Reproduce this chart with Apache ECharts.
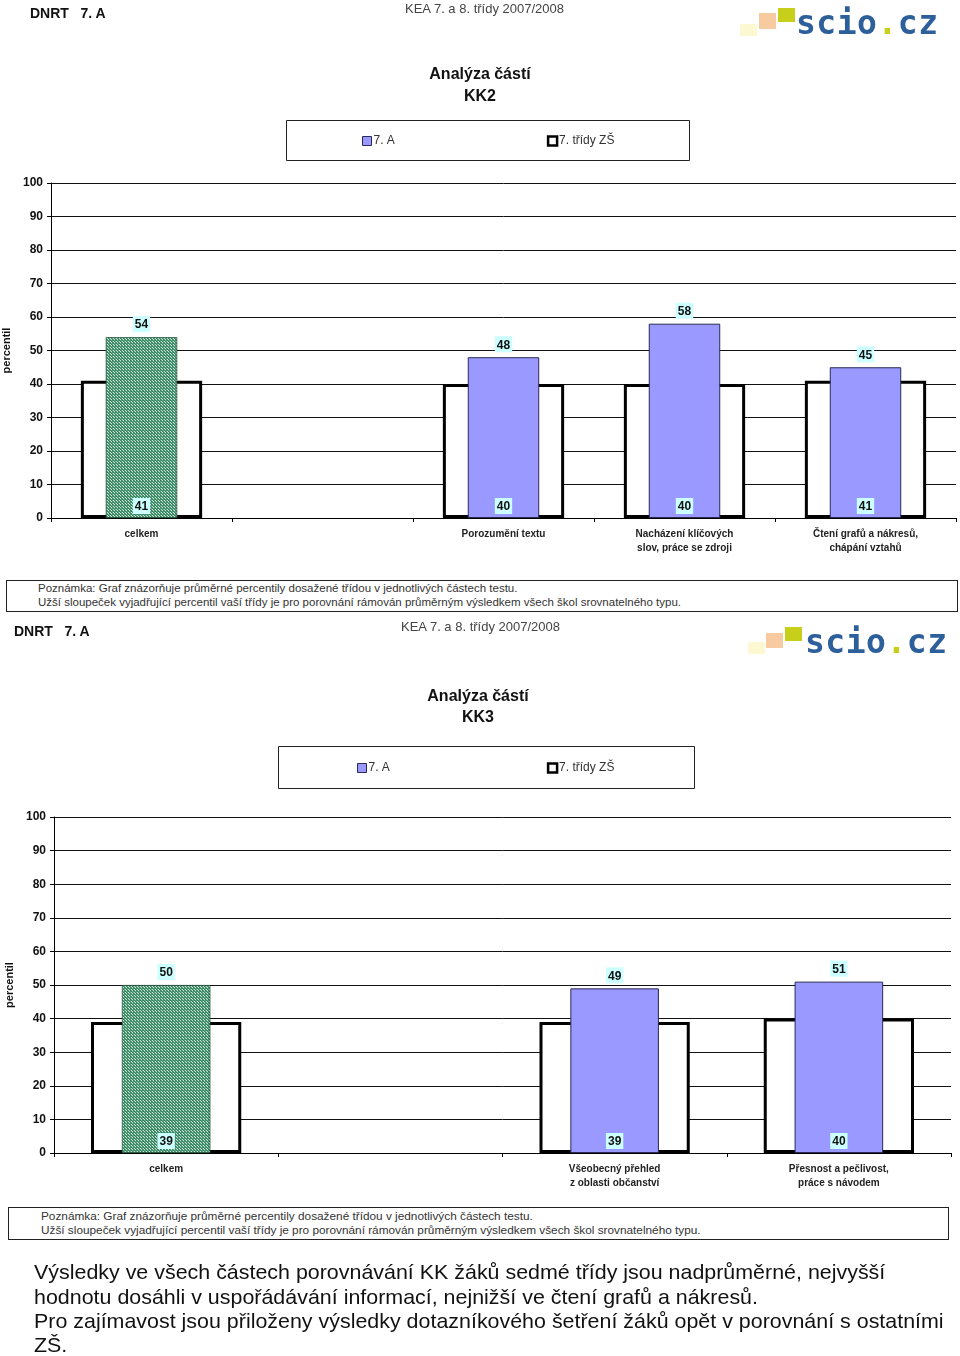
<!DOCTYPE html>
<html><head><meta charset="utf-8">
<script src="https://cdn.jsdelivr.net/npm/echarts@6/dist/echarts.min.js"></script>
<style>
html,body{margin:0;padding:0;background:#fff;}
#wrap{position:relative;width:960px;height:1356px;overflow:hidden;font-family:'Liberation Sans',Arial,sans-serif;}
#chart{position:absolute;left:0;top:0;width:960px;height:1356px;}
.abs{position:absolute;white-space:nowrap;}
.hdr{font-weight:bold;font-size:14px;color:#111;}
.kea{font-family:'Liberation Sans Narrow','Arial Narrow','Liberation Sans',sans-serif;font-size:13px;color:#444;}
.note{position:absolute;border:1px solid #222;background:#fff;}
.note div{position:absolute;font-family:'Liberation Sans Narrow','Arial Narrow','Liberation Sans',sans-serif;font-size:11.5px;color:#333;white-space:nowrap;}
.logo{font-family:'DejaVu Sans Mono',monospace;font-weight:bold;font-size:33px;color:#2d5f9a;letter-spacing:0.5px;}
.sq{position:absolute;}
.para{position:absolute;left:34px;font-size:21px;color:#111;white-space:nowrap;transform-origin:left center;transform:scaleX(1.02);}
</style></head>
<body><div id="wrap">
<div id="chart"></div>

<div class="abs hdr" style="left:30px;top:5px;">DNRT&nbsp;&nbsp;&nbsp;7. A</div>
<div class="abs kea" style="left:405px;top:1px;">KEA 7. a 8. třídy 2007/2008</div>
<div class="sq" style="left:740px;top:24px;width:17px;height:12px;background:#fbf8d2;"></div>
<div class="sq" style="left:759px;top:13px;width:17px;height:16px;background:#f7caa0;"></div>
<div class="sq" style="left:778px;top:8px;width:17px;height:14px;background:#c8cf1a;"></div>
<div class="abs logo" style="left:796px;top:3px;">scio<span style="color:#c8cf1a">.</span>cz</div>

<div class="note" style="left:6px;top:580px;width:950px;height:30px;">
<div style="left:31px;top:1px;">Poznámka: Graf znázorňuje průměrné percentily dosažené třídou v jednotlivých částech testu.</div>
<div style="left:31px;top:15px;">Užší sloupeček vyjadřující percentil vaší třídy je pro porovnání rámován průměrným výsledkem všech škol srovnatelného typu.</div>
</div>

<div class="abs hdr" style="left:14px;top:623px;">DNRT&nbsp;&nbsp;&nbsp;7. A</div>
<div class="abs kea" style="left:401px;top:619px;">KEA 7. a 8. třídy 2007/2008</div>
<div class="sq" style="left:748px;top:642px;width:17px;height:12px;background:#fbf8d2;"></div>
<div class="sq" style="left:766px;top:633px;width:17px;height:15px;background:#f7caa0;"></div>
<div class="sq" style="left:785px;top:627px;width:17px;height:14px;background:#c8cf1a;"></div>
<div class="abs logo" style="left:805px;top:622px;">scio<span style="color:#c8cf1a">.</span>cz</div>

<div class="note" style="left:8px;top:1207px;width:939px;height:31px;">
<div style="left:32px;top:1px;font-size:11.8px;">Poznámka: Graf znázorňuje průměrné percentily dosažené třídou v jednotlivých částech testu.</div>
<div style="left:32px;top:15px;font-size:11.8px;">Užší sloupeček vyjadřující percentil vaší třídy je pro porovnání rámován průměrným výsledkem všech škol srovnatelného typu.</div>
</div>

<div class="para" style="top:1260px;">Výsledky ve všech částech porovnávání KK žáků sedmé třídy jsou nadprůměrné, nejvyšší</div>
<div class="para" style="top:1285px;">hodnotu dosáhli v uspořádávání informací, nejnižší ve čtení grafů a nákresů.</div>
<div class="para" style="top:1309px;">Pro zajímavost jsou přiloženy výsledky dotazníkového šetření žáků opět v porovnání s ostatními</div>
<div class="para" style="top:1333px;">ZŠ.</div>
</div>

<script>
// ---- data ----
const categoriesKK2 = ['celkem', '', 'Porozumění textu', 'Nacházení klíčových\nslov, práce se zdroji', 'Čtení grafů a nákresů,\nchápání vztahů'];
const classKK2 = [54, null, 48, 58, 45];
const schoolsKK2 = [41, null, 40, 40, 41];

const categoriesKK3 = ['celkem', '', 'Všeobecný přehled\nz oblasti občanství', 'Přesnost a pečlivost,\npráce s návodem'];
const classKK3 = [50, null, 49, 51];
const schoolsKK3 = [39, null, 39, 40];

const yTicks = [0, 10, 20, 30, 40, 50, 60, 70, 80, 90, 100];
const seriesNames = ['7. A', '7. třídy ZŠ'];
const titles = ['Analýza částí\nKK2', 'Analýza částí\nKK3'];

// ---- styling helpers ----
function greenPattern() {
  const c = document.createElement('canvas');
  c.width = 3; c.height = 3;
  const g = c.getContext('2d');
  g.fillStyle = '#5aa27f'; g.fillRect(0, 0, 3, 3);
  g.fillStyle = '#2f7a58'; g.fillRect(1, 0, 1, 1); g.fillRect(0, 2, 1, 1); g.fillRect(2, 1, 1, 1);
  g.fillStyle = '#cfe9db'; g.fillRect(0, 0, 1, 1); g.fillRect(2, 2, 1, 1);
  return { image: c, repeat: 'repeat' };
}
const pat = greenPattern();

const grids = [
  { left: 51, right: 4, top: 183, height: 335, outerBoundsMode: 'none', containLabel: false },
  { left: 54, right: 9, top: 817, height: 336, outerBoundsMode: 'none', containLabel: false }
];
const chartData = [
  { cats: categoriesKK2, cls: classKK2, sch: schoolsKK2 },
  { cats: categoriesKK3, cls: classKK3, sch: schoolsKK3 }
];

const labelBox = {
  fontFamily: 'Liberation Sans, Arial, sans-serif', fontSize: 12, fontWeight: 'bold', color: '#111',
  backgroundColor: '#ccffff', padding: [3, 2, 1, 2]
};

const xAxes = [], yAxes = [], series = [];
chartData.forEach((d, g) => {
  xAxes.push({
    gridIndex: g, type: 'category', data: d.cats,
    axisLine: { lineStyle: { color: '#000', width: 1 } },
    axisTick: { show: true, alignWithLabel: false, length: 4, lineStyle: { color: '#000' } },
    axisLabel: { interval: 0, fontSize: 10, fontWeight: 'bold', color: '#222', lineHeight: 14, margin: 9,
      fontFamily: 'Liberation Sans, Arial, sans-serif' },
    splitLine: { show: false }
  });
  xAxes.push({ gridIndex: g, type: 'category', data: d.cats, show: false });
  yAxes.push({
    gridIndex: g, type: 'value', min: yTicks[0], max: yTicks[yTicks.length - 1], interval: yTicks[1] - yTicks[0],
    name: 'percentil', nameLocation: 'middle', nameGap: 37,
    nameTextStyle: { fontSize: 11, fontWeight: 'bold', color: '#111', fontFamily: 'Liberation Sans, Arial, sans-serif' },
    axisLine: { show: true, lineStyle: { color: '#000' } },
    axisTick: { show: true, length: 4, lineStyle: { color: '#000' } },
    axisLabel: { fontSize: 12, fontWeight: 'bold', color: '#111', margin: 8, fontFamily: 'Liberation Sans, Arial, sans-serif' },
    splitLine: { lineStyle: { color: '#111', width: 1 } }
  });
  // wide outline bars: average of all schools
  series.push({
    name: seriesNames[1], type: 'bar', xAxisIndex: 2 * g, yAxisIndex: g,
    data: d.sch, barWidth: '67%', z: 2, silent: true,
    itemStyle: { color: '#fff', borderColor: '#000', borderWidth: 3 }
  });
  // narrow class bars
  series.push({
    name: seriesNames[0], type: 'bar', xAxisIndex: 2 * g + 1, yAxisIndex: g,
    data: d.cls.map((v, i) => i === 0 ? { value: v, itemStyle: { color: pat, borderColor: '#2b5a44', borderWidth: 0.8 } } : v),
    barWidth: '39.5%', barGap: '-100%', z: 3, silent: true,
    itemStyle: { color: '#9999ff', borderColor: '#2a2a55', borderWidth: 1 },
    label: Object.assign({ show: true, position: 'top', distance: 5 }, labelBox)
  });
  // labels of the school averages, shown at the base of the narrow bars
  series.push({
    name: 'zs-label', type: 'bar', xAxisIndex: 2 * g + 1, yAxisIndex: g,
    data: d.sch, barWidth: '39.5%', barGap: '-100%', z: 4, silent: true,
    itemStyle: { color: 'rgba(0,0,0,0)' },
    label: Object.assign({ show: true, position: 'insideBottom', distance: 4 }, labelBox)
  });
});

const chart = echarts.init(document.getElementById('chart'), null, { renderer: 'canvas' });
chart.setOption({
  animation: false,
  backgroundColor: 'transparent',
  title: [
    { text: titles[0], left: 475, top: 59, textAlign: 'center',
      textStyle: { fontSize: 16, fontWeight: 'bold', color: '#111', lineHeight: 22, fontFamily: 'Liberation Sans, Arial, sans-serif' } },
    { text: titles[1], left: 473, top: 681, textAlign: 'center',
      textStyle: { fontSize: 16, fontWeight: 'bold', color: '#111', lineHeight: 21, fontFamily: 'Liberation Sans, Arial, sans-serif' } }
  ],
  legend: [
    { data: [{ name: seriesNames[0], itemStyle: { borderWidth: 1 } }, { name: seriesNames[1], itemStyle: { borderWidth: 2.5 } }],
      left: 357, top: 130, itemGap: 152, itemWidth: 9, itemHeight: 9, icon: 'rect', selectedMode: false,
      textStyle: { fontSize: 12, color: '#333', padding: [0, 0, 0, -3], fontFamily: 'Liberation Sans, Arial, sans-serif' } },
    { data: [{ name: seriesNames[0], itemStyle: { borderWidth: 1 } }, { name: seriesNames[1], itemStyle: { borderWidth: 2.5 } }],
      left: 352, top: 757, itemGap: 157, itemWidth: 9, itemHeight: 9, icon: 'rect', selectedMode: false,
      textStyle: { fontSize: 12, color: '#333', padding: [0, 0, 0, -3], fontFamily: 'Liberation Sans, Arial, sans-serif' } }
  ],
  graphic: [
    { type: 'rect', shape: { x: 286.5, y: 120.5, width: 403, height: 40 }, style: { fill: 'none', stroke: '#222', lineWidth: 1 }, z: -1 },
    { type: 'rect', shape: { x: 278.5, y: 746.5, width: 416, height: 42 }, style: { fill: 'none', stroke: '#222', lineWidth: 1 }, z: -1 }
  ],
  tooltip: { show: false },
  grid: grids,
  xAxis: xAxes,
  yAxis: yAxes,
  series: series
});
</script>
</body></html>
